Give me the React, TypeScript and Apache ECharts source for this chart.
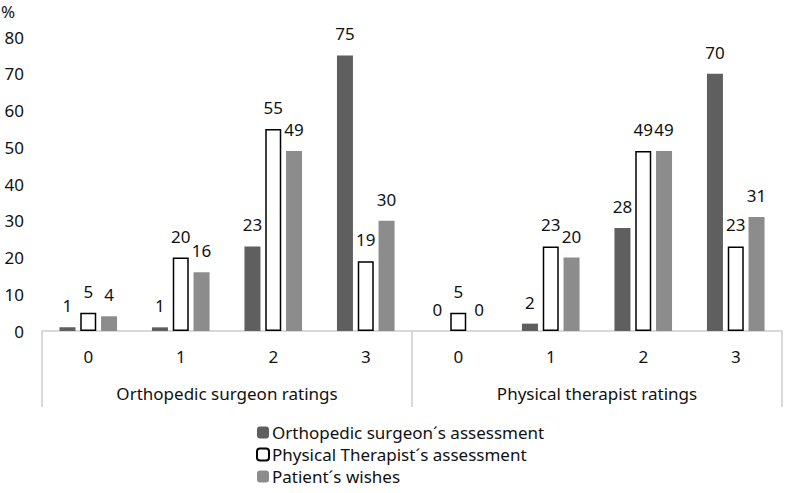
import React, { useEffect, useRef } from "react";
import * as echarts from "echarts";

const categories = ["0", "1", "2", "3", "0", "1", "2", "3"];
const groups = ["Orthopedic surgeon ratings", "Physical therapist ratings"];
const seriesNames = [
  "Orthopedic surgeon\u00b4s assessment",
  "Physical Therapist\u00b4s assessment",
  "Patient\u00b4s wishes",
];
const surgeonAssessment = [1, 1, 23, 75, 0, 2, 28, 70];
const therapistAssessment = [5, 20, 55, 19, 5, 23, 49, 23];
const patientWishes = [4, 16, 49, 30, 0, 20, 49, 31];

const FONT = "Noto Sans";
const FS = 17;

export default function App() {
  const ref = useRef<HTMLDivElement>(null);
  useEffect(() => {
    document.body.style.margin = "0";
    if (!ref.current) return;
    const chart = echarts.init(ref.current, undefined, { renderer: "svg" });
    const label = {
      show: true,
      position: "top" as const,
      distance: 13,
      fontFamily: FONT,
      fontSize: FS,
      color: "#111",
    };
    chart.setOption({
      animation: false,
      textStyle: { fontFamily: FONT },
      grid: { left: 42, right: 4, top: 37, bottom: 162, containLabel: false },
      graphic: [
        {
          type: "text",
          left: 1,
          top: 3,
          style: { text: "%", fontFamily: FONT, fontSize: FS, fill: "#111" },
        },
      ],
      legend: {
        orient: "vertical",
        left: 256,
        top: 424,
        itemWidth: 12,
        itemHeight: 12,
        itemGap: 5,
        padding: 0,
        textStyle: { fontFamily: FONT, fontSize: FS, color: "#111", padding: [0, 0, 0, -2] },
        data: seriesNames,
      },
      xAxis: [
        {
          type: "category",
          data: categories,
          position: "bottom",
          axisLine: { show: true, lineStyle: { color: "#d9d9d9", width: 2 } },
          axisTick: { show: false },
          axisLabel: { margin: 17, fontFamily: FONT, fontSize: FS, color: "#111" },
        },
        {
          type: "category",
          data: groups,
          position: "bottom",
          axisLine: { show: false },
          axisTick: {
            show: true,
            length: 76,
            lineStyle: { color: "#d9d9d9", width: 2 },
          },
          axisLabel: { margin: 54, fontFamily: FONT, fontSize: FS, color: "#111" },
        },
      ],
      yAxis: {
        type: "value",
        min: 0,
        max: 80,
        interval: 10,
        axisLine: { show: false },
        axisTick: { show: false },
        splitLine: { show: false },
        axisLabel: { margin: 18, fontFamily: FONT, fontSize: FS, color: "#111" },
      },
      series: [
        {
          name: seriesNames[0],
          type: "bar",
          xAxisIndex: 0,
          data: surgeonAssessment,
          barWidth: 16,
          barGap: "30%",
          itemStyle: { color: "#5f5f5f" },
          label,
        },
        {
          name: seriesNames[1],
          type: "bar",
          xAxisIndex: 0,
          data: therapistAssessment,
          barWidth: 16,
          barGap: "30%",
          itemStyle: { color: "#ffffff", borderColor: "#000000", borderWidth: 1.5 },
          label,
        },
        {
          name: seriesNames[2],
          type: "bar",
          xAxisIndex: 0,
          data: patientWishes,
          barWidth: 16,
          barGap: "30%",
          itemStyle: { color: "#8c8c8c" },
          label,
        },
      ],
    });
    return () => chart.dispose();
  }, []);
  return <div ref={ref} style={{ width: 786, height: 493 }} />;
}
